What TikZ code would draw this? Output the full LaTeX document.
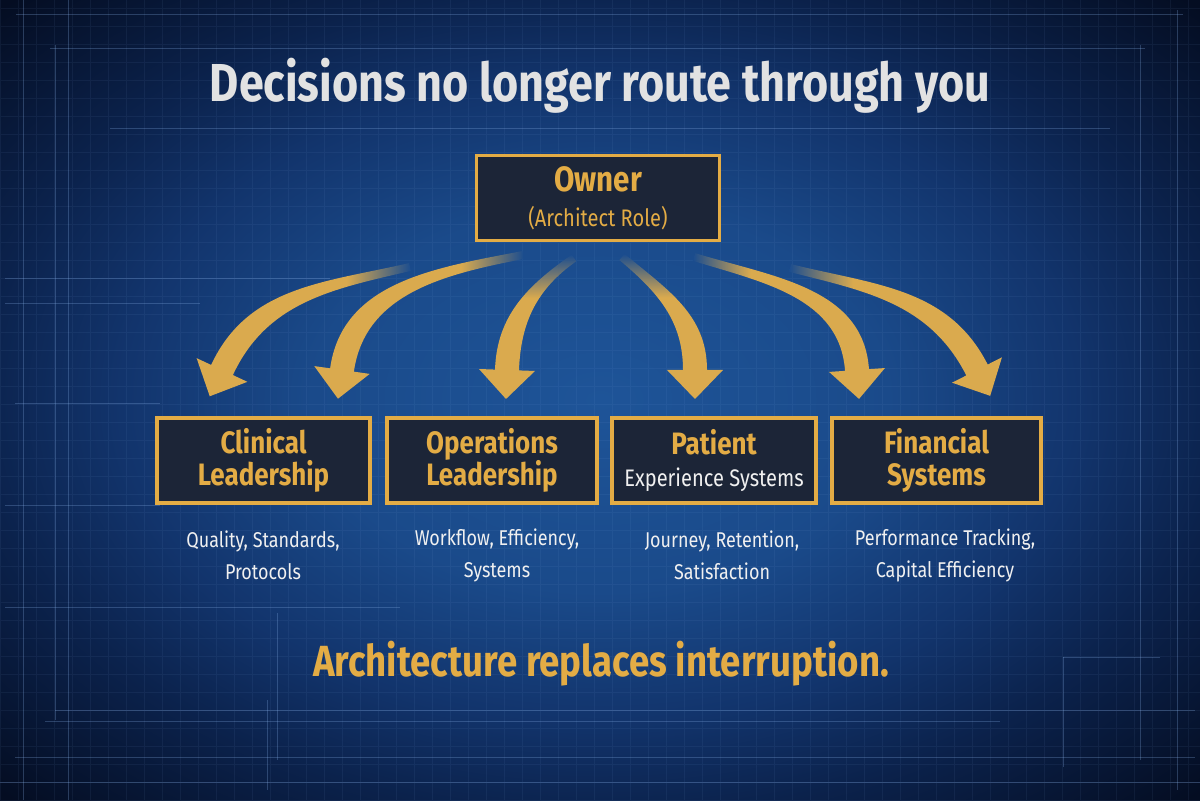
\documentclass[tikz,border=0pt]{standalone}
\usepackage{fontspec}
\setmainfont{Fira Sans}[FakeStretch=0.84]
\usetikzlibrary{calc}

\definecolor{gold}{RGB}{227,172,69}
\definecolor{arrowgold}{RGB}{218,170,78}
\definecolor{boxfill}{RGB}{28,37,55}
\definecolor{titlegray}{RGB}{226,226,226}
\definecolor{desctext}{RGB}{240,240,240}
\definecolor{gridblue}{RGB}{140,180,235}
\definecolor{bgcenter}{RGB}{30,84,152}
\definecolor{bgmid}{RGB}{26,74,138}
\definecolor{bgedge}{RGB}{18,52,108}
\definecolor{bgouter}{RGB}{11,34,76}
\definecolor{bgdark}{RGB}{4,13,34}
\definecolor{tailblue}{RGB}{27,77,143}

% shadings fill their 25bp..75bp middle square over the path
\pgfdeclareradialshading{vignette}{\pgfpoint{0bp}{0bp}}{color(0bp)=(bgcenter); color(12bp)=(bgmid); color(20bp)=(bgedge); color(26bp)=(bgouter); color(35bp)=(bgdark); color(50bp)=(bgdark)}

% arrow tails melt into the background
\pgfdeclarehorizontalshading{tailright}{100bp}{color(0bp)=(arrowgold); color(60bp)=(arrowgold); color(75bp)=(tailblue); color(100bp)=(tailblue)}
\pgfdeclarehorizontalshading{tailleft}{100bp}{color(0bp)=(tailblue); color(25bp)=(tailblue); color(40bp)=(arrowgold); color(100bp)=(arrowgold)}
\pgfdeclareverticalshading{tailup}{100bp}{color(0bp)=(arrowgold); color(60bp)=(arrowgold); color(75bp)=(tailblue); color(100bp)=(tailblue)}

\tikzset{
  rolebox/.style={draw=gold, line width=2.2pt, fill=boxfill, minimum width=#1, minimum height=2.125cm,
    inner sep=0pt, align=center, text=gold, font=\bfseries\fontsize{22}{22.8}\selectfont},
  desc/.style={align=center, text=desctext, font=\fontsize{15.2}{22.8}\selectfont},
  fanarrow/.style={shading=#1},
  gridline/.style={draw=gridblue, opacity=0.07, line width=0.3pt},
  rule/.style={draw=gridblue, opacity=0.27, line width=0.5pt}
}

\begin{document}
\begin{tikzpicture}[x=0.025cm, y=0.025cm]
\useasboundingbox (0,0) rectangle (1200,800);

% blueprint background
\shade[shading=vignette] (0,0) rectangle (1200,800);
\draw[gridline, step=18] (0,0) grid (1200,800);
\foreach \ya/\xa/\xb in {786/16/1183, 752/50/1145, 672/110/1110, 522/5/330, 497/5/200, 397/15/160,
    295/5/160, 193/5/400, 90/55/1195, 79/45/1000, 43/15/1195, 18/0/1200, 143/1063/1160}
  \draw[rule] (\xa,\ya) -- (\xb,\ya);
\foreach \xa/\ya/\yb in {23/0/800, 55/80/755, 68/0/800, 1140/40/755, 1177/10/790, 1063/33/143,
    277/40/187, 267/10/100}
  \draw[rule] (\xa,\ya) -- (\xa,\yb);

% title
\node[anchor=base, text=titlegray, font=\bfseries\fontsize{38}{42}\selectfont] (title) at (600,698)
  {Decisions no longer route through you};

% owner
\node[rolebox=6.075cm] (owner) at (598,602)
  {{\fontsize{25}{25}\selectfont Owner}\\[2pt]{\mdseries\fontsize{17}{18}\selectfont (Architect Role)}};

% fan of arrows
\foreach \i/\tx/\ty/\ao/\bx/\ang/\fd in {1/410/533/193/222/-115/tailright, 2/523/545/191/342/-98/tailright,
    3/574/542/215/507/-92/tailup, 4/622/543/-40/695/-90/tailup,
    5/694/543/-17/857/-86/tailleft, 6/790/532/-14/977/-63/tailleft}{
  \pgfmathsetmacro\angb{\ang+180}
  \coordinate (tail\i) at (\tx,\ty);
  \coordinate (head\i) at (\bx,430);
  \shade[fanarrow=\fd]
    ($(tail\i)+({\ao-90}:4)$) to[out=\ao, in=\angb] ($(head\i)+({\ang-90}:12)$)
    -- ($(head\i)+({\ang-90}:28)$) -- ($(head\i)+(\ang:29)$) -- ($(head\i)+({\ang+90}:28)$)
    -- ($(head\i)+({\ang+90}:12)$) to[out=\angb, in=\ao] ($(tail\i)+({\ao+90}:4)$) -- cycle;
}

% leadership boxes
\node[rolebox=5.325cm] (clinical) at (263.5,339.5) {Clinical\\Leadership};
\node[rolebox=5.25cm] (operations) at (492,339.5) {Operations\\Leadership};
\node[rolebox=5.1cm] (patient) at (714,339.5)
  {Patient\\{\mdseries\color{desctext}\fontsize{17}{22.8}\selectfont Experience Systems}};
\node[rolebox=5.225cm] (financial) at (936.5,339.5) {Financial\\Systems};

% what each one covers
\node[desc] (clinicaldesc) at (263,245) {Quality, Standards,\\Protocols};
\node[desc] (operationsdesc) at (497,245) {Workflow, Efficiency,\\Systems};
\node[desc] (patientdesc) at (722,245) {Journey, Retention,\\Satisfaction};
\node[desc] (financialdesc) at (945,245) {Performance Tracking,\\Capital Efficiency};

% closing line
\node[anchor=base, text=gold, font=\bfseries\fontsize{31}{34}\selectfont] (closing) at (601,123)
  {Architecture replaces interruption.};
\end{tikzpicture}
\end{document}
